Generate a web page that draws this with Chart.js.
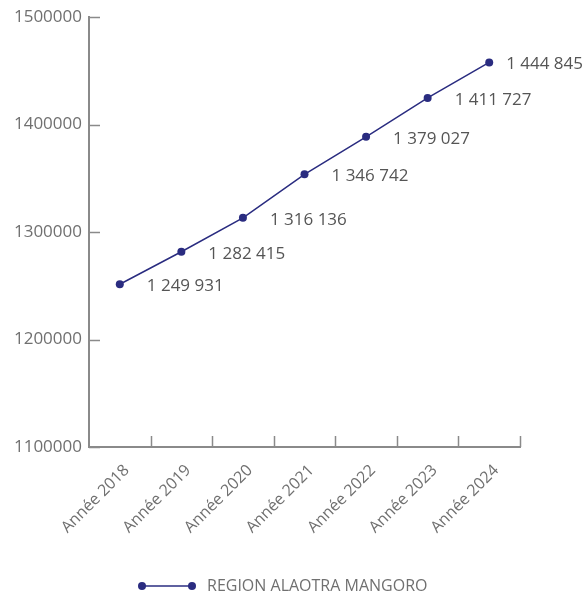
<!DOCTYPE html>
<html>
<head>
<meta charset="utf-8">
<script src="https://cdn.jsdelivr.net/npm/chart.js@4"></script>
<style>
  html, body { margin: 0; padding: 0; background: #fff; }
  #wrap { width: 584px; height: 597px; }
</style>
</head>
<body>
<div id="wrap"><canvas id="popChart"></canvas></div>
<script>
// =================== DATA ===================
const years = ["Année 2018", "Année 2019", "Année 2020", "Année 2021", "Année 2022", "Année 2023", "Année 2024"];
// plotted values
const population = [1251500, 1281700, 1313300, 1353800, 1388700, 1424900, 1457900];
// value labels as printed next to each point
const valueLabels = ["1 249 931", "1 282 415", "1 316 136", "1 346 742", "1 379 027", "1 411 727", "1 444 845"];
const yTicks = [1100000, 1200000, 1300000, 1400000, 1500000];
const seriesName = "REGION ALAOTRA MANGORO";

const NAVY = "#2a2c80";
const AXIS = "#8a8a8a";
const FONT = "'Open Sans', 'Noto Sans', sans-serif";

// =================== PLUGINS ===================
// small tick marks pointing into the plot
const innerTicks = {
  id: "innerTicks",
  afterDraw(chart) {
    const { ctx, chartArea: a, scales: { x, y } } = chart;
    ctx.save();
    ctx.strokeStyle = AXIS;
    ctx.lineWidth = 1.5;
    ctx.beginPath();
    yTicks.forEach(v => {
      const py = Math.round(y.getPixelForValue(v)) + 0.5;
      ctx.moveTo(a.left, py);
      ctx.lineTo(a.left + 11, py);
    });
    const n = years.length;
    for (let i = 0; i < n; i++) {
      const bx = i < n - 1 ? (x.getPixelForValue(i) + x.getPixelForValue(i + 1)) / 2 : a.right;
      const px = Math.round(bx) + 0.5;
      ctx.moveTo(px, a.bottom);
      ctx.lineTo(px, a.bottom - 11);
    }
    ctx.stroke();
    ctx.restore();
  }
};

// value labels right of each point, kept inside the canvas
const pointLabels = {
  id: "pointLabels",
  afterDatasetsDraw(chart) {
    const { ctx } = chart;
    const meta = chart.getDatasetMeta(0);
    ctx.save();
    ctx.font = "17px " + FONT;
    ctx.fillStyle = "#555";
    ctx.textAlign = "left";
    ctx.textBaseline = "middle";
    meta.data.forEach((pt, i) => {
      const w = ctx.measureText(valueLabels[i]).width;
      const tx = Math.min(pt.x + 27, chart.width - w - 1);
      ctx.fillText(valueLabels[i], tx, pt.y + 2);
    });
    ctx.restore();
  }
};

// legend: line with a dot at each end, then the series name
const lineLegend = {
  id: "lineLegend",
  afterDraw(chart) {
    const { ctx } = chart;
    const cy = 586, x0 = 142, x1 = 192;
    ctx.save();
    ctx.strokeStyle = NAVY;
    ctx.fillStyle = NAVY;
    ctx.lineWidth = 1.5;
    ctx.beginPath();
    ctx.moveTo(x0, cy);
    ctx.lineTo(x1, cy);
    ctx.stroke();
    [x0, x1].forEach(cx => {
      ctx.beginPath();
      ctx.arc(cx, cy, 4, 0, Math.PI * 2);
      ctx.fill();
    });
    ctx.font = "16px " + FONT;
    ctx.fillStyle = "#707070";
    ctx.textBaseline = "middle";
    ctx.fillText(chart.data.datasets[0].label, 207, cy);
    ctx.restore();
  }
};

// =================== CHART ===================
new Chart(document.getElementById("popChart"), {
  type: "line",
  data: {
    labels: years,
    datasets: [{
      label: seriesName,
      data: population,
      borderColor: NAVY,
      backgroundColor: NAVY,
      borderWidth: 1.5,
      tension: 0,
      pointRadius: 4,
      pointBorderWidth: 0,
      pointBackgroundColor: NAVY
    }]
  },
  options: {
    responsive: true,
    maintainAspectRatio: false,
    animation: false,
    layout: { padding: { top: 15, right: 64, bottom: 40, left: 0 } },
    plugins: {
      legend: { display: false },
      tooltip: { enabled: false }
    },
    scales: {
      x: {
        offset: true,
        grid: { display: false },
        border: { display: true, color: AXIS, width: 2 },
        ticks: {
          color: "#707070",
          font: { family: FONT, size: 16 },
          maxRotation: 45,
          minRotation: 45,
          padding: 6,
          labelOffset: 7
        },
        afterFit(scale) { scale.height = 110; }
      },
      y: {
        min: 1100000,
        max: 1500000,
        grid: { display: false, drawTicks: false },
        border: { display: true, color: AXIS, width: 2 },
        ticks: {
          stepSize: 100000,
          color: "#707070",
          font: { family: FONT, size: 17 },
          padding: 7,
          callback: v => String(v)
        },
        afterFit(scale) { scale.width = 89; }
      }
    }
  },
  plugins: [innerTicks, pointLabels, lineLegend]
});
</script>
</body>
</html>
